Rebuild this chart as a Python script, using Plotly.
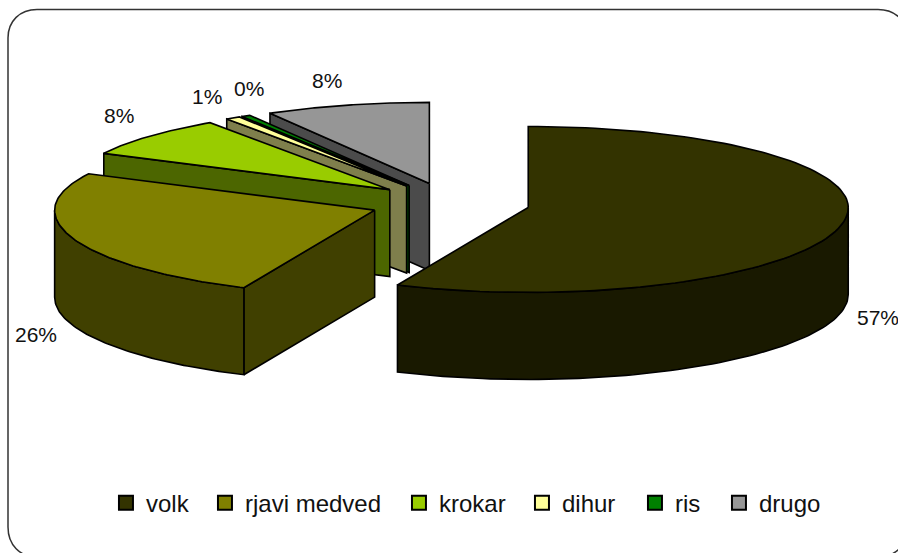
# Exploded 3D pie rebuilt from filled scatter polygons (plotly has no 3D pie)
import numpy as np
import plotly.graph_objects as go

names = ["volk", "rjavi medved", "krokar", "dihur", "ris", "drugo"]
shares = [56.7, 25.7, 8.1, 0.75, 0.45, 8.3]
colors = ["#333300", "#808000", "#99CC00", "#FFFF99", "#008000", "#969696"]
labels = ["57%", "26%", "8%", "1%", "0%", "8%"]
label_x = [878, 36, 119, 207, 249, 327]
label_y = [317, 334, 115, 96, 88, 80]
# legend entry widths, text part only
legend_widths = [54, 149, 78, 68, 39, 70]

# projection of the pie on the page
CX, CY = 450, 203
RX, RY_BACK, RY_FRONT = 320, 81, 85
DEPTH = 87
EXPLODE = 0.25


def darker(hex_color):
    r, g, b = [int(hex_color[i:i + 2], 16) // 2 for i in (1, 3, 5)]
    return f"rgb({r},{g},{b})"


def project(theta, cx, cy):
    # theta in degrees, clockwise from 12 o'clock
    t = np.radians(theta)
    c = np.cos(t)
    ry = np.where(c >= 0, RY_BACK, RY_FRONT)
    return cx + RX * np.sin(t), cy - ry * c


def face(fig, xs, ys, color):
    fig.add_trace(go.Scatter(
        x=list(xs), y=list(ys), mode="lines", fill="toself", fillcolor=color,
        line=dict(color="black", width=1.6), showlegend=False, hoverinfo="skip",
    ))


edges = np.concatenate([[0], np.cumsum(shares)]) / sum(shares) * 360
fig = go.Figure()

# back slices first, front slices last
for i in [5, 4, 3, 2, 1, 0]:
    a0, a1 = edges[i], edges[i + 1]
    mid = (a0 + a1) / 2
    cx, cy = project(mid, CX, CY)
    cx = CX + (cx - CX) * EXPLODE
    cy = CY + (cy - CY) * EXPLODE
    side = darker(colors[i])

    # cut face on the start edge, only seen when it turns to the viewer
    if 180 < a0 < 360:
        ex, ey = project(a0, cx, cy)
        face(fig, [cx, ex, ex, cx, cx], [cy, ey, ey + DEPTH, cy + DEPTH, cy], side)

    # outer wall, front half of the rim only
    w0, w1 = max(a0, 90), min(a1, 270)
    if w1 > w0:
        wall = np.linspace(w0, w1, 80)
        wx, wy = project(wall, cx, cy)
        face(fig, np.r_[wx, wx[::-1], wx[0]], np.r_[wy, wy[::-1] + DEPTH, wy[0]], side)

    arc = np.linspace(a0, a1, 120)
    ax, ay = project(arc, cx, cy)
    face(fig, np.r_[cx, ax, cx], np.r_[cy, ay, cy], colors[i])

for name, color, lw in zip(names, colors, legend_widths):
    fig.add_trace(go.Scatter(
        x=[None], y=[None], mode="markers", name=name, legendwidth=lw,
        marker=dict(symbol="square", size=14, color=color, line=dict(color="black", width=2)),
    ))

for text, x, y in zip(labels, label_x, label_y):
    fig.add_annotation(x=x, y=y, text=text, showarrow=False,
                       font=dict(family="Liberation Sans", size=21, color="#111111"))

# chart area frame, runs off the page on the right and at the bottom
fig.add_shape(type="path", line=dict(color="#333333", width=1.5),
              path="M 8 38 C 8 21 20 9.5 37 9.5 L 878 9.5 C 895 9.5 908 21 908 38 "
                   "L 908 527 C 908 545 895 557 878 557 L 37 557 C 20 557 8 545 8 527 Z")

fig.update_layout(
    width=898, height=553, autosize=False,
    margin=dict(l=0, r=0, t=0, b=0),
    paper_bgcolor="white", plot_bgcolor="white",
    xaxis=dict(range=[0, 898], visible=False, fixedrange=True),
    yaxis=dict(range=[553, 0], visible=False, fixedrange=True),
    showlegend=True,
    legend=dict(orientation="h", x=0.118, xanchor="left", y=0.09, yanchor="middle",
                font=dict(family="Liberation Sans", size=24, color="#111111"),
                bgcolor="rgba(0,0,0,0)", traceorder="normal"),
)

fig.write_html("out.html", config={"displayModeBar": False},
               post_script="document.body.style.margin='0';document.body.style.overflow='hidden';")
